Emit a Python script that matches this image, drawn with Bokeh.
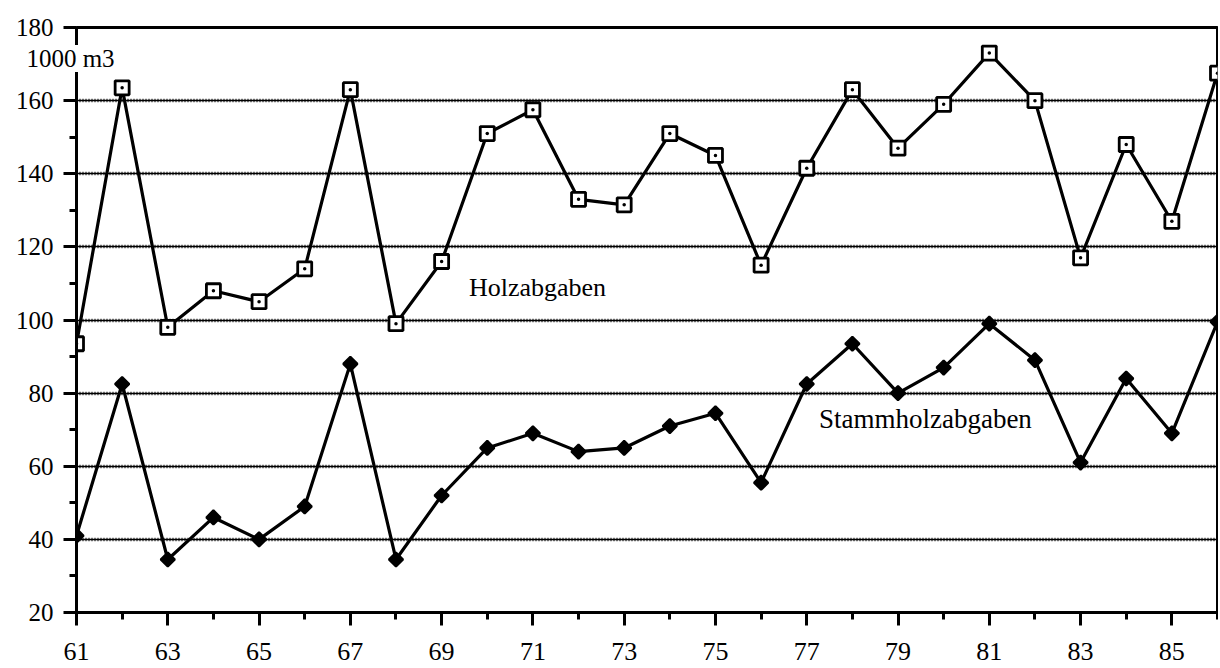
import numpy as np
from bokeh.plotting import figure
from bokeh.models import FixedTicker, Label, Grid, Range1d
from bokeh.embed import file_html
from bokeh.resources import INLINE

years = list(range(61, 87))
holzabgaben = [93.5, 163.5, 98, 108, 105, 114, 163, 99, 116, 151, 157.5, 133, 131.5,
               151, 145, 115, 141.5, 163, 147, 159, 173, 160, 117, 148, 127, 167.5]
stammholz = [41, 82.5, 34.5, 46, 40, 49, 88, 34.5, 52, 65, 69, 64, 65,
             71, 74.5, 55.5, 82.5, 93.5, 80, 87, 99, 89, 61, 84, 69, 99.5]
x_ticks = list(range(61, 87, 2))
x_minor = list(range(62, 87, 2))
y_ticks = list(range(20, 181, 20))
y_minor = list(range(30, 180, 20))
grid_levels = list(range(40, 161, 20))

FONT = "Liberation Serif"

p = figure(width=1218, height=668, x_range=Range1d(61, 86), y_range=Range1d(20, 180),
           output_backend="svg", toolbar_location=None,
           min_border_left=76, min_border_right=1, min_border_top=22, min_border_bottom=56)

p.background_fill_color = "white"
p.border_fill_color = "white"
p.outline_line_color = "black"
p.outline_line_width = 3
p.xgrid.visible = False
p.ygrid.visible = False

g1 = Grid(dimension=1, ticker=FixedTicker(ticks=grid_levels),
          grid_line_color="#000000", grid_line_width=1.5)
g2 = Grid(dimension=1, ticker=FixedTicker(ticks=grid_levels),
          grid_line_color="#000000", grid_line_width=3.5, grid_line_dash="1 2")
p.add_layout(g1)
p.add_layout(g2)

p.xaxis.ticker = FixedTicker(ticks=x_ticks, minor_ticks=x_minor)
p.yaxis.ticker = FixedTicker(ticks=y_ticks, minor_ticks=y_minor)
for ax in (p.xaxis, p.yaxis):
    ax.axis_line_width = 3
    ax.axis_line_color = "black"
    ax.major_tick_line_width = 3
    ax.minor_tick_line_width = 3
    ax.major_tick_in = 0
    ax.minor_tick_in = 0
    ax.major_tick_out = 13
    ax.minor_tick_out = 7
    ax.major_label_text_font = FONT
    ax.major_label_text_font_style = "normal"
    ax.major_label_text_color = "black"
p.xaxis.major_label_text_font_size = "26px"
p.yaxis.major_label_text_font_size = "25px"
p.xaxis.major_label_standoff = 17
p.yaxis.major_label_standoff = 10

p.line(years, holzabgaben, line_color="black", line_width=3.2)
p.line(years, stammholz, line_color="black", line_width=3.2)
p.scatter(years, holzabgaben, marker="square_dot", size=14, line_color="black",
          line_width=2.8, fill_color="white")
p.scatter(years, stammholz, marker="square", angle=np.pi / 4, size=10,
          line_color="black", line_width=2.2, fill_color="black")

p.add_layout(Label(x=71.1, y=108.9, text="Holzabgaben", text_font=FONT,
                   text_font_size="26px", text_align="center", text_baseline="middle",
                   text_color="black"))
p.add_layout(Label(x=79.6, y=73, text="Stammholzabgaben", text_font=FONT,
                   text_font_size="27px", text_align="center", text_baseline="middle",
                   text_color="black"))

unit_lbl = Label(x=61, y=171.5, x_offset=-6, text="1000 m3", text_font=FONT,
                 text_font_size="25px", text_align="center", text_baseline="middle",
                 text_line_height=0.75,
                 text_color="black", background_fill_color="white")
p.add_layout(unit_lbl, "above")

open("out.html", "w").write(file_html(p, INLINE))
